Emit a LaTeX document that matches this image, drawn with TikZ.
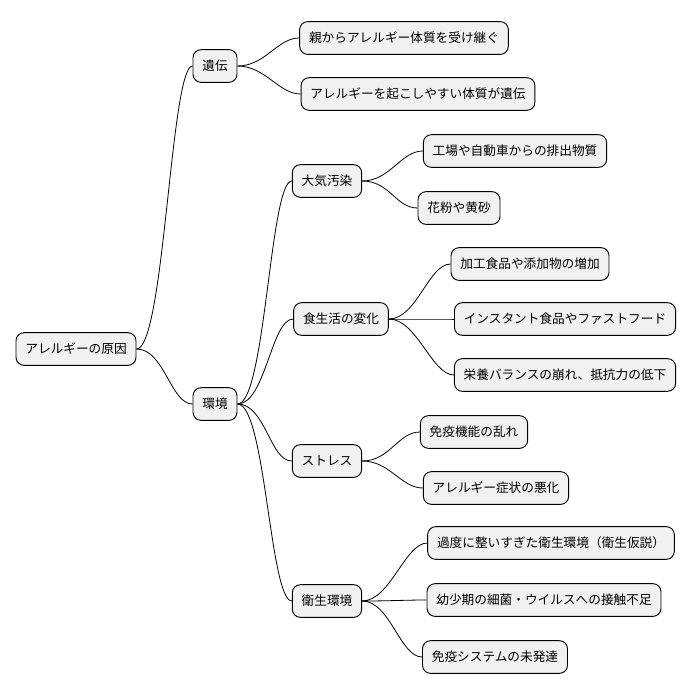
\documentclass[tikz,border=0pt]{standalone}
\usepackage{fontspec}
\setmainfont{Noto Sans CJK JP}
\usetikzlibrary{positioning}
\definecolor{boxgray}{RGB}{241,241,241}
\begin{document}
\begin{tikzpicture}[
  x=0.75pt, y=-0.75pt,
  topic/.style={draw, rounded corners=6pt, fill=boxgray, line width=0.7pt,
                minimum height=24.5pt, inner xsep=7pt, font=\fontsize{9.5}{11}\selectfont},
  link/.style={line width=0.6pt}
]
\useasboundingbox (0,0) rectangle (698,696);

\node[topic] (root) at (76,349) {アレルギーの原因};
\node[topic] (iden) at (215,66) {遺伝};
\node[topic] (kank) at (215,404) {環境};

\node[topic] (oya) at (404,38) {親からアレルギー体質を受け継ぐ};
\node[topic] (okos) at (418,94) {アレルギーを起こしやすい体質が遺伝};

\node[topic] (taik) at (327,181) {大気汚染};
\node[topic] (koujo) at (515,151) {工場や自動車からの排出物質};
\node[topic] (kafun) at (459,208) {花粉や黄砂};

\node[topic] (shoku) at (341,319) {食生活の変化};
\node[topic] (kakou) at (530,264) {加工食品や添加物の増加};
\node[topic] (inst) at (565,319) {インスタント食品やファストフード};
\node[topic] (eiyou) at (565,375) {栄養バランスの崩れ、抵抗力の低下};

\node[topic] (stress) at (327,461) {ストレス};
\node[topic] (meneki) at (474,432) {免疫機能の乱れ};
\node[topic] (akka) at (496,488) {アレルギー症状の悪化};

\node[topic] (eisei) at (327,601) {衛生環境};
\node[topic] (kado) at (551,543) {過度に整いすぎた衛生環境（衛生仮説）};
\node[topic] (youshou) at (544,600) {幼少期の細菌・ウイルスへの接触不足};
\node[topic] (mihat) at (495,657) {免疫システムの未発達};

% connectors
\foreach \p/\c in {root/iden, root/kank, iden/oya, iden/okos,
  kank/taik, kank/shoku, kank/stress, kank/eisei,
  taik/koujo, taik/kafun, shoku/kakou, shoku/inst, shoku/eiyou,
  stress/meneki, stress/akka, eisei/kado, eisei/youshou, eisei/mihat}
  \draw[link] (\p.east) .. controls +(28,0) and +(-22,0) .. (\c.west);

\end{tikzpicture}
\end{document}
